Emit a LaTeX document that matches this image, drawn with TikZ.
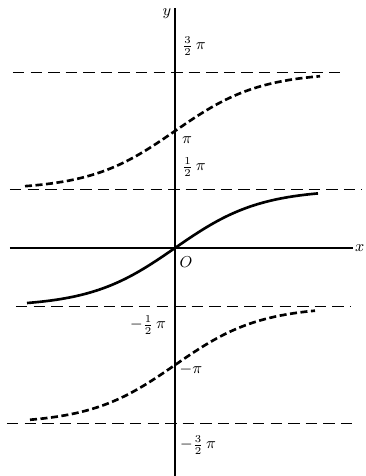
\documentclass[tikz,border=0pt]{standalone}
\usepackage{amsmath}
\usepackage{tikz}
\usetikzlibrary{arrows.meta}
\begin{document}
\begin{tikzpicture}[x=0.02cm, y=0.02cm, >=Latex]
        \tikzset{asym/.style={line width=0.6pt, dash pattern=on 6.5pt off 3.5pt},
                 branch/.style={line width=1.5pt, dash pattern=on 4pt off 2pt},
                 main/.style={line width=1.5pt},
                 lbl/.style={font=\small, inner sep=1pt}}
        \useasboundingbox (-175,-228) rectangle (190,248);
        % axes
        \coordinate (xl) at (-165,0);
        \coordinate (xr) at (178,0);
        \coordinate (yb) at (0,-228);
        \coordinate (yt) at (0,240);
        \draw[line width=0.7pt] (xl) -- (xr);
        \draw[line width=0.9pt] (yb) -- (yt);
        \node[lbl, right] (xlab) at (xr) {$x$};
        \node[lbl] (ylab) at (-8,234) {$y$};
        \node[lbl] (orig) at (11,-14) {$O$};
        % asymptotes
        \coordinate (a3l) at (-162,175.5);  \coordinate (a3r) at (165,175.5);
        \coordinate (a1l) at (-165,58.5);   \coordinate (a1r) at (187,58.5);
        \coordinate (b1l) at (-159,-58.5);  \coordinate (b1r) at (175,-58.5);
        \coordinate (b3l) at (-168,-175.5); \coordinate (b3r) at (177,-175.5);
        \draw[asym] (a3l) -- (a3r);
        \draw[asym] (a1l) -- (a1r);
        \draw[asym] (b1l) -- (b1r);
        \draw[asym] (b3l) -- (b3r);
        % branches
        \draw[main] plot[domain=-148:143, samples=70, smooth] (\x, {58.5*tanh(\x/85)});
        \draw[branch] plot[domain=-150:145, samples=70, smooth] (\x, {117+58.5*tanh(\x/85)});
        \draw[branch] plot[domain=-145:140, samples=70, smooth] (\x, {-117+58.5*tanh(\x/85)});
        % labels
        \node[lbl] (p3) at (19,202) {$\frac{3}{2}\,\pi$};
        \node[lbl] (p2) at (12,108) {$\pi$};
        \node[lbl] (p1) at (19,81) {$\frac{1}{2}\,\pi$};
        \node[lbl] (m1) at (-27,-77) {$-\frac{1}{2}\,\pi$};
        \node[lbl] (m2) at (16,-122) {$-\pi$};
        \node[lbl] (m3) at (23,-197) {$-\frac{3}{2}\,\pi$};
\end{tikzpicture}
\end{document}
